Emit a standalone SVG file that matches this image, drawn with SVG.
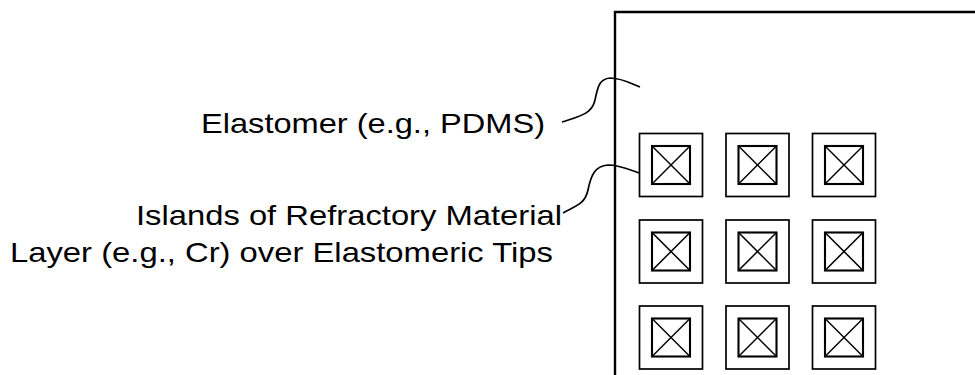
<svg xmlns="http://www.w3.org/2000/svg" width="975" height="375" viewBox="0 0 975 375">
<style>
.lbl{font-family:"Liberation Sans",Arial,sans-serif;font-size:28px;fill:#000}
.frame{fill:none;stroke:#000;stroke-width:2.4}
.outer{fill:#fff;stroke:#000;stroke-width:1.7}
.inner{fill:#fff;stroke:#000;stroke-width:2.1}
.x{stroke:#000;stroke-width:1.5}
.lead{fill:none;stroke:#000;stroke-width:1.7}
</style>
<defs>
<g id="tip">
<rect class="outer" x="0" y="0" width="63" height="63"/>
<rect class="inner" x="12.5" y="12.5" width="38" height="38"/>
<line class="x" x1="12.5" y1="12.5" x2="50.5" y2="50.5"/>
<line class="x" x1="50.5" y1="12.5" x2="12.5" y2="50.5"/>
</g>
</defs>
<rect width="975" height="375" fill="#fff"/>
<g id="elastomer">
<path class="frame" d="M975,12 H615 V375"/>
</g>
<g id="tips">
<use href="#tip" x="639.5" y="133.5"/>
<use href="#tip" x="726" y="133.5"/>
<use href="#tip" x="812.5" y="133.5"/>
<use href="#tip" x="639.5" y="220"/>
<use href="#tip" x="726" y="220"/>
<use href="#tip" x="812.5" y="220"/>
<use href="#tip" x="639.5" y="306"/>
<use href="#tip" x="726" y="306"/>
<use href="#tip" x="812.5" y="306"/>
</g>
<g id="label-elastomer">
<text class="lbl" x="201" y="133" textLength="344" lengthAdjust="spacingAndGlyphs">Elastomer (e.g., PDMS)</text>
</g>
<g id="label-islands">
<text class="lbl" x="136" y="225" textLength="426" lengthAdjust="spacingAndGlyphs">Islands of Refractory Material</text>
<text class="lbl" x="10" y="262" textLength="543" lengthAdjust="spacingAndGlyphs">Layer (e.g., Cr) over Elastomeric Tips</text>
</g>
<g id="connectors">
<path class="lead" d="M562,122 C580,116 592,114 595,100 C598,85 600,79 610,78 C622,78 632,84 640,87"/>
<path class="lead" d="M563,213 C576,206 585,204 588,190 C591,175 595,166 608,165 C620,165 630,170 639,173"/>
</g>
</svg>
